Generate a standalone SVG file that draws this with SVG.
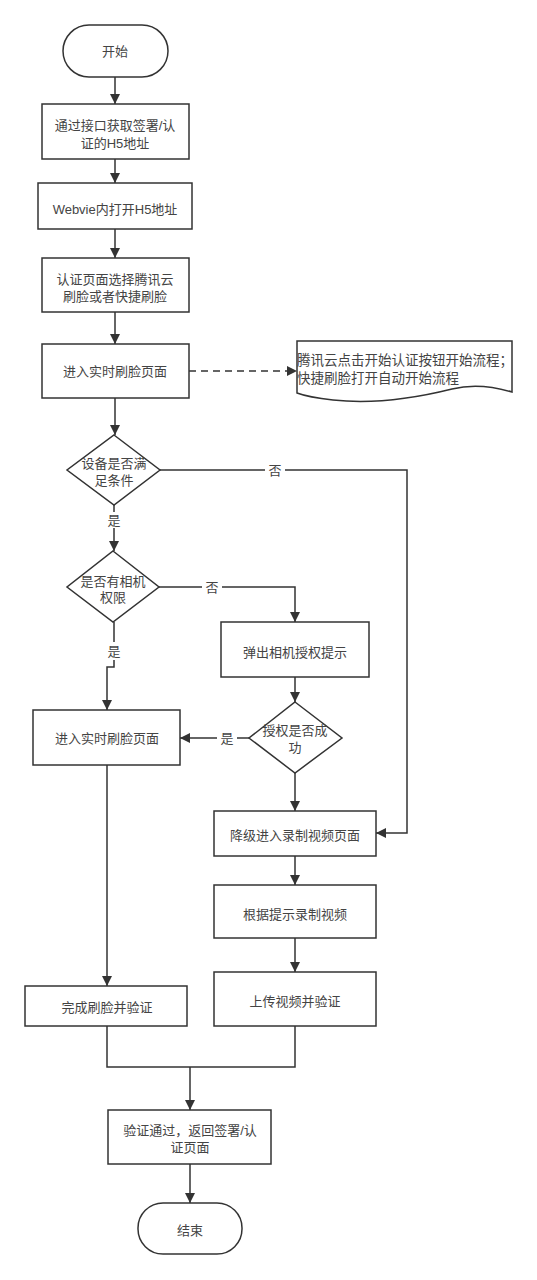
<svg xmlns="http://www.w3.org/2000/svg" width="537" height="1280" viewBox="0 0 537 1280">
<defs>
<style>
.s{fill:#fff;stroke:#333;stroke-width:1.5}
.t{font-family:"Liberation Sans","Noto Sans CJK SC",sans-serif;font-size:13px;fill:#444;text-anchor:middle;dominant-baseline:central}
.n{font-family:"Liberation Sans","Noto Sans CJK SC",sans-serif;font-size:13.5px;fill:#444;text-anchor:start;dominant-baseline:central}
.l{fill:none;stroke:#333;stroke-width:1.5}
.lb{font-family:"Liberation Sans","Noto Sans CJK SC",sans-serif;font-size:13px;fill:#444;text-anchor:middle;dominant-baseline:central}
</style>
<marker id="a" viewBox="0 0 10 10" refX="10" refY="5" markerWidth="10" markerHeight="10" markerUnits="userSpaceOnUse" orient="auto">
<path d="M0,0 L10,5 L0,10 Z" fill="#333"/>
</marker>
</defs>
<rect width="537" height="1280" fill="#fff"/>
<g id="connectors">
<path class="l" d="M115,77 V104" marker-end="url(#a)"/>
<path class="l" d="M115,159 V183" marker-end="url(#a)"/>
<path class="l" d="M115,229 V258" marker-end="url(#a)"/>
<path class="l" d="M115,312 V344" marker-end="url(#a)"/>
<path class="l" d="M189,371 H297" stroke-dasharray="7,5" marker-end="url(#a)"/>
<path class="l" d="M115,398 V435" marker-end="url(#a)"/>
<path class="l" d="M160,470 H407 V833 H376" marker-end="url(#a)"/>
<path class="l" d="M114,505 V551" marker-end="url(#a)"/>
<path class="l" d="M159,587 H295 V622" marker-end="url(#a)"/>
<path class="l" d="M114,622 V667 H107 V710" marker-end="url(#a)"/>
<path class="l" d="M295,677 V702" marker-end="url(#a)"/>
<path class="l" d="M249,738 H180" marker-end="url(#a)"/>
<path class="l" d="M295,773 V811" marker-end="url(#a)"/>
<path class="l" d="M295,856 V885" marker-end="url(#a)"/>
<path class="l" d="M295,938 V972" marker-end="url(#a)"/>
<path class="l" d="M107,765 V986" marker-end="url(#a)"/>
<path class="l" d="M107,1026 V1067 H295 V1026"/>
<path class="l" d="M190,1067 V1110" marker-end="url(#a)"/>
<path class="l" d="M190,1164 V1203" marker-end="url(#a)"/>
<rect x="265" y="462" width="20" height="16" fill="#fff"/>
<text class="lb" x="275" y="470">否</text>
<rect x="104" y="512" width="20" height="16" fill="#fff"/>
<text class="lb" x="114" y="520">是</text>
<rect x="202" y="579" width="20" height="16" fill="#fff"/>
<text class="lb" x="212" y="587">否</text>
<rect x="104" y="642" width="20" height="18" fill="#fff"/>
<text class="lb" x="114" y="651">是</text>
<rect x="217" y="730" width="20" height="16" fill="#fff"/>
<text class="lb" x="227" y="738">是</text>
</g>
<g id="start">
<rect class="s" x="63" y="25" width="105" height="52" rx="26"/>
<text class="t" x="115" y="51">开始</text>
</g>
<g id="n1">
<rect class="s" x="42" y="104" width="147" height="55"/>
<text class="t" x="115" y="125">通过接口获取签署/认</text>
<text class="t" x="115" y="143">证的H5地址</text>
</g>
<g id="n2">
<rect class="s" x="38" y="183" width="154" height="46"/>
<text class="t" x="115" y="209">Webvie内打开H5地址</text>
</g>
<g id="n3">
<rect class="s" x="42" y="258" width="147" height="54"/>
<text class="t" x="115" y="279">认证页面选择腾讯云</text>
<text class="t" x="115" y="296">刷脸或者快捷刷脸</text>
</g>
<g id="n4">
<rect class="s" x="42" y="344" width="147" height="54"/>
<text class="t" x="115" y="371">进入实时刷脸页面</text>
</g>
<g id="note">
<path class="s" d="M297,341 H512 V392 C492,386 472,384 452,389 C412,399 370,404 333,400 C315,398 305,396 297,393 Z"/>
<text class="n" x="297" y="360">腾讯云点击开始认证按钮开始流程；</text>
<text class="n" x="297" y="378">快捷刷脸打开自动开始流程</text>
</g>
<g id="d1">
<path class="s" d="M114,435 L160,470 L114,505 L67,470 Z"/>
<text class="t" x="114" y="463">设备是否满</text>
<text class="t" x="114" y="480">足条件</text>
</g>
<g id="d2">
<path class="s" d="M113,551 L159,587 L113,622 L67,587 Z"/>
<text class="t" x="113" y="581">是否有相机</text>
<text class="t" x="113" y="597">权限</text>
</g>
<g id="n5">
<rect class="s" x="221" y="622" width="148" height="55"/>
<text class="t" x="295" y="652">弹出相机授权提示</text>
</g>
<g id="d3">
<path class="s" d="M295,702 L342,738 L295,773 L249,738 Z"/>
<text class="t" x="295" y="730">授权是否成</text>
<text class="t" x="295" y="747">功</text>
</g>
<g id="n6">
<rect class="s" x="33" y="710" width="147" height="55"/>
<text class="t" x="107" y="738">进入实时刷脸页面</text>
</g>
<g id="n7">
<rect class="s" x="214" y="811" width="162" height="45"/>
<text class="t" x="295" y="835">降级进入录制视频页面</text>
</g>
<g id="n8">
<rect class="s" x="214" y="885" width="162" height="53"/>
<text class="t" x="295" y="914">根据提示录制视频</text>
</g>
<g id="n9">
<rect class="s" x="214" y="972" width="162" height="54"/>
<text class="t" x="295" y="1001">上传视频并验证</text>
</g>
<g id="n10">
<rect class="s" x="25" y="986" width="162" height="40"/>
<text class="t" x="107" y="1007">完成刷脸并验证</text>
</g>
<g id="n11">
<rect class="s" x="108" y="1110" width="163" height="54"/>
<text class="t" x="190" y="1130">验证通过，返回签署/认</text>
<text class="t" x="190" y="1147">证页面</text>
</g>
<g id="end">
<rect class="s" x="138" y="1203" width="104" height="51" rx="25"/>
<text class="t" x="190" y="1230">结束</text>
</g>
</svg>
